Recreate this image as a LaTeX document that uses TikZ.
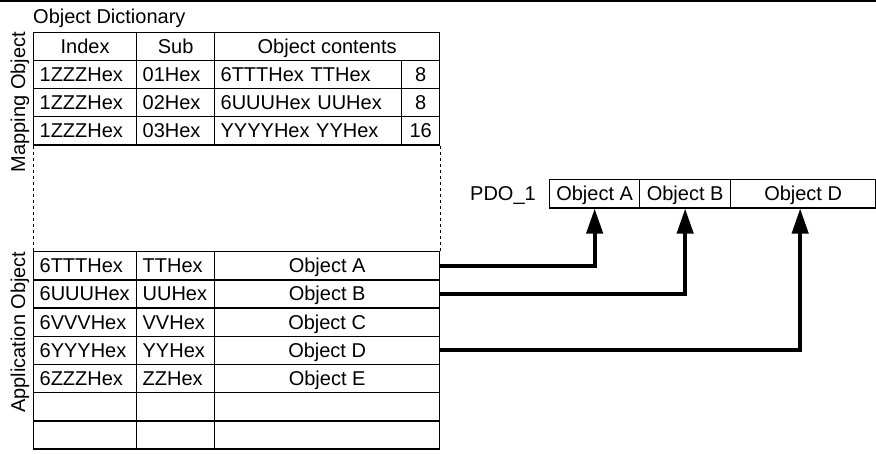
\documentclass[tikz,border=0pt]{standalone}
\usepackage{fontspec}
\setmainfont{Liberation Sans}
\usetikzlibrary{arrows.meta}

\begin{document}
\begin{tikzpicture}[x=1pt, y=-1pt]
\tikzset{cellule/.style={draw, line width=1.3pt, minimum width=#1, minimum height=28.2pt, inner sep=0pt, anchor=north west, text height=16pt, text depth=2pt, font=\fontsize{20}{24}\selectfont}}
\tikzset{cellg/.style={cellule=0pt, inner xsep=6pt, text width=#1, align=left}}
\tikzset{titre/.style={inner sep=0pt, text height=16pt, text depth=2pt, font=\fontsize{20}{24}\selectfont}}
\tikzset{pointille/.style={line width=0.8pt, dash pattern=on 3pt off 3pt}}
\tikzset{lien/.style={line width=4pt, -{Triangle[width=16pt, length=25pt]}}}
\useasboundingbox (0,0) rectangle (876,453);
\draw[line width=2.5pt] (0,1) -- (876,1);
\node[titre, anchor=west] (dico) at (33,16) {Object Dictionary};
\node[titre, rotate=90] (mapping) at (18,102) {Mapping Object};
\node[titre, rotate=90] (appli) at (18,332) {Application Object};
% mapping object
\node[cellule=103pt] (hIdx) at (33,31.5) {Index};
\node[cellule=78pt] (hSub) at (136,31.5) {Sub};
\node[cellule=225pt] (hCont) at (214,31.5) {Object contents};
\node[cellg=91pt] (m1i) at (33,59.7) {1ZZZHex};
\node[cellg=66pt] (m1s) at (136,59.7) {01Hex};
\node[cellg=175pt] (m1c) at (214,59.7) {6TTTHex TTHex};
\node[cellule=38pt] (m1l) at (401,59.7) {8};
\node[cellg=91pt] (m2i) at (33,87.9) {1ZZZHex};
\node[cellg=66pt] (m2s) at (136,87.9) {02Hex};
\node[cellg=175pt] (m2c) at (214,87.9) {6UUUHex UUHex};
\node[cellule=38pt] (m2l) at (401,87.9) {8};
\node[cellg=91pt] (m3i) at (33,116.1) {1ZZZHex};
\node[cellg=66pt] (m3s) at (136,116.1) {03Hex};
\node[cellg=175pt] (m3c) at (214,116.1) {YYYYHex YYHex};
\node[cellule=38pt] (m3l) at (401,116.1) {16};
% application object
\node[cellg=91pt] (a1i) at (33,251) {6TTTHex};
\node[cellg=66pt] (a1s) at (136,251) {TTHex};
\node[cellule=225pt] (objA) at (214,251) {Object A};
\node[cellg=91pt] (a2i) at (33,279.2) {6UUUHex};
\node[cellg=66pt] (a2s) at (136,279.2) {UUHex};
\node[cellule=225pt] (objB) at (214,279.2) {Object B};
\node[cellg=91pt] (a3i) at (33,307.4) {6VVVHex};
\node[cellg=66pt] (a3s) at (136,307.4) {VVHex};
\node[cellule=225pt] (objC) at (214,307.4) {Object C};
\node[cellg=91pt] (a4i) at (33,335.6) {6YYYHex};
\node[cellg=66pt] (a4s) at (136,335.6) {YYHex};
\node[cellule=225pt] (objD) at (214,335.6) {Object D};
\node[cellg=91pt] (a5i) at (33,363.8) {6ZZZHex};
\node[cellg=66pt] (a5s) at (136,363.8) {ZZHex};
\node[cellule=225pt] (objE) at (214,363.8) {Object E};
\node[cellule=103pt] (a6i) at (33,392) {};
\node[cellule=78pt] (a6s) at (136,392) {};
\node[cellule=225pt] (a6o) at (214,392) {};
\node[cellule=103pt] (a7i) at (33,420.2) {};
\node[cellule=78pt] (a7s) at (136,420.2) {};
\node[cellule=225pt] (a7o) at (214,420.2) {};
\draw[pointille] (m3i.south west) -- (a1i.north west);
\draw[pointille] (m3l.south east) -- (objA.north east);
% PDO
\node[titre, anchor=east] (pdo) at (536,193) {PDO\_1};
\node[cellule=90pt] (pdoA) at (549,179) {Object A};
\node[cellule=91pt] (pdoB) at (639,179) {Object B};
\node[cellule=145pt] (pdoD) at (730,179) {Object D};
\draw[lien] (objA.east) -| (pdoA.south);
\draw[lien] (objB.east) -| (pdoB.south);
\draw[lien] (objD.east) -| ([xshift=-3pt]pdoD.south);
\end{tikzpicture}
\end{document}
